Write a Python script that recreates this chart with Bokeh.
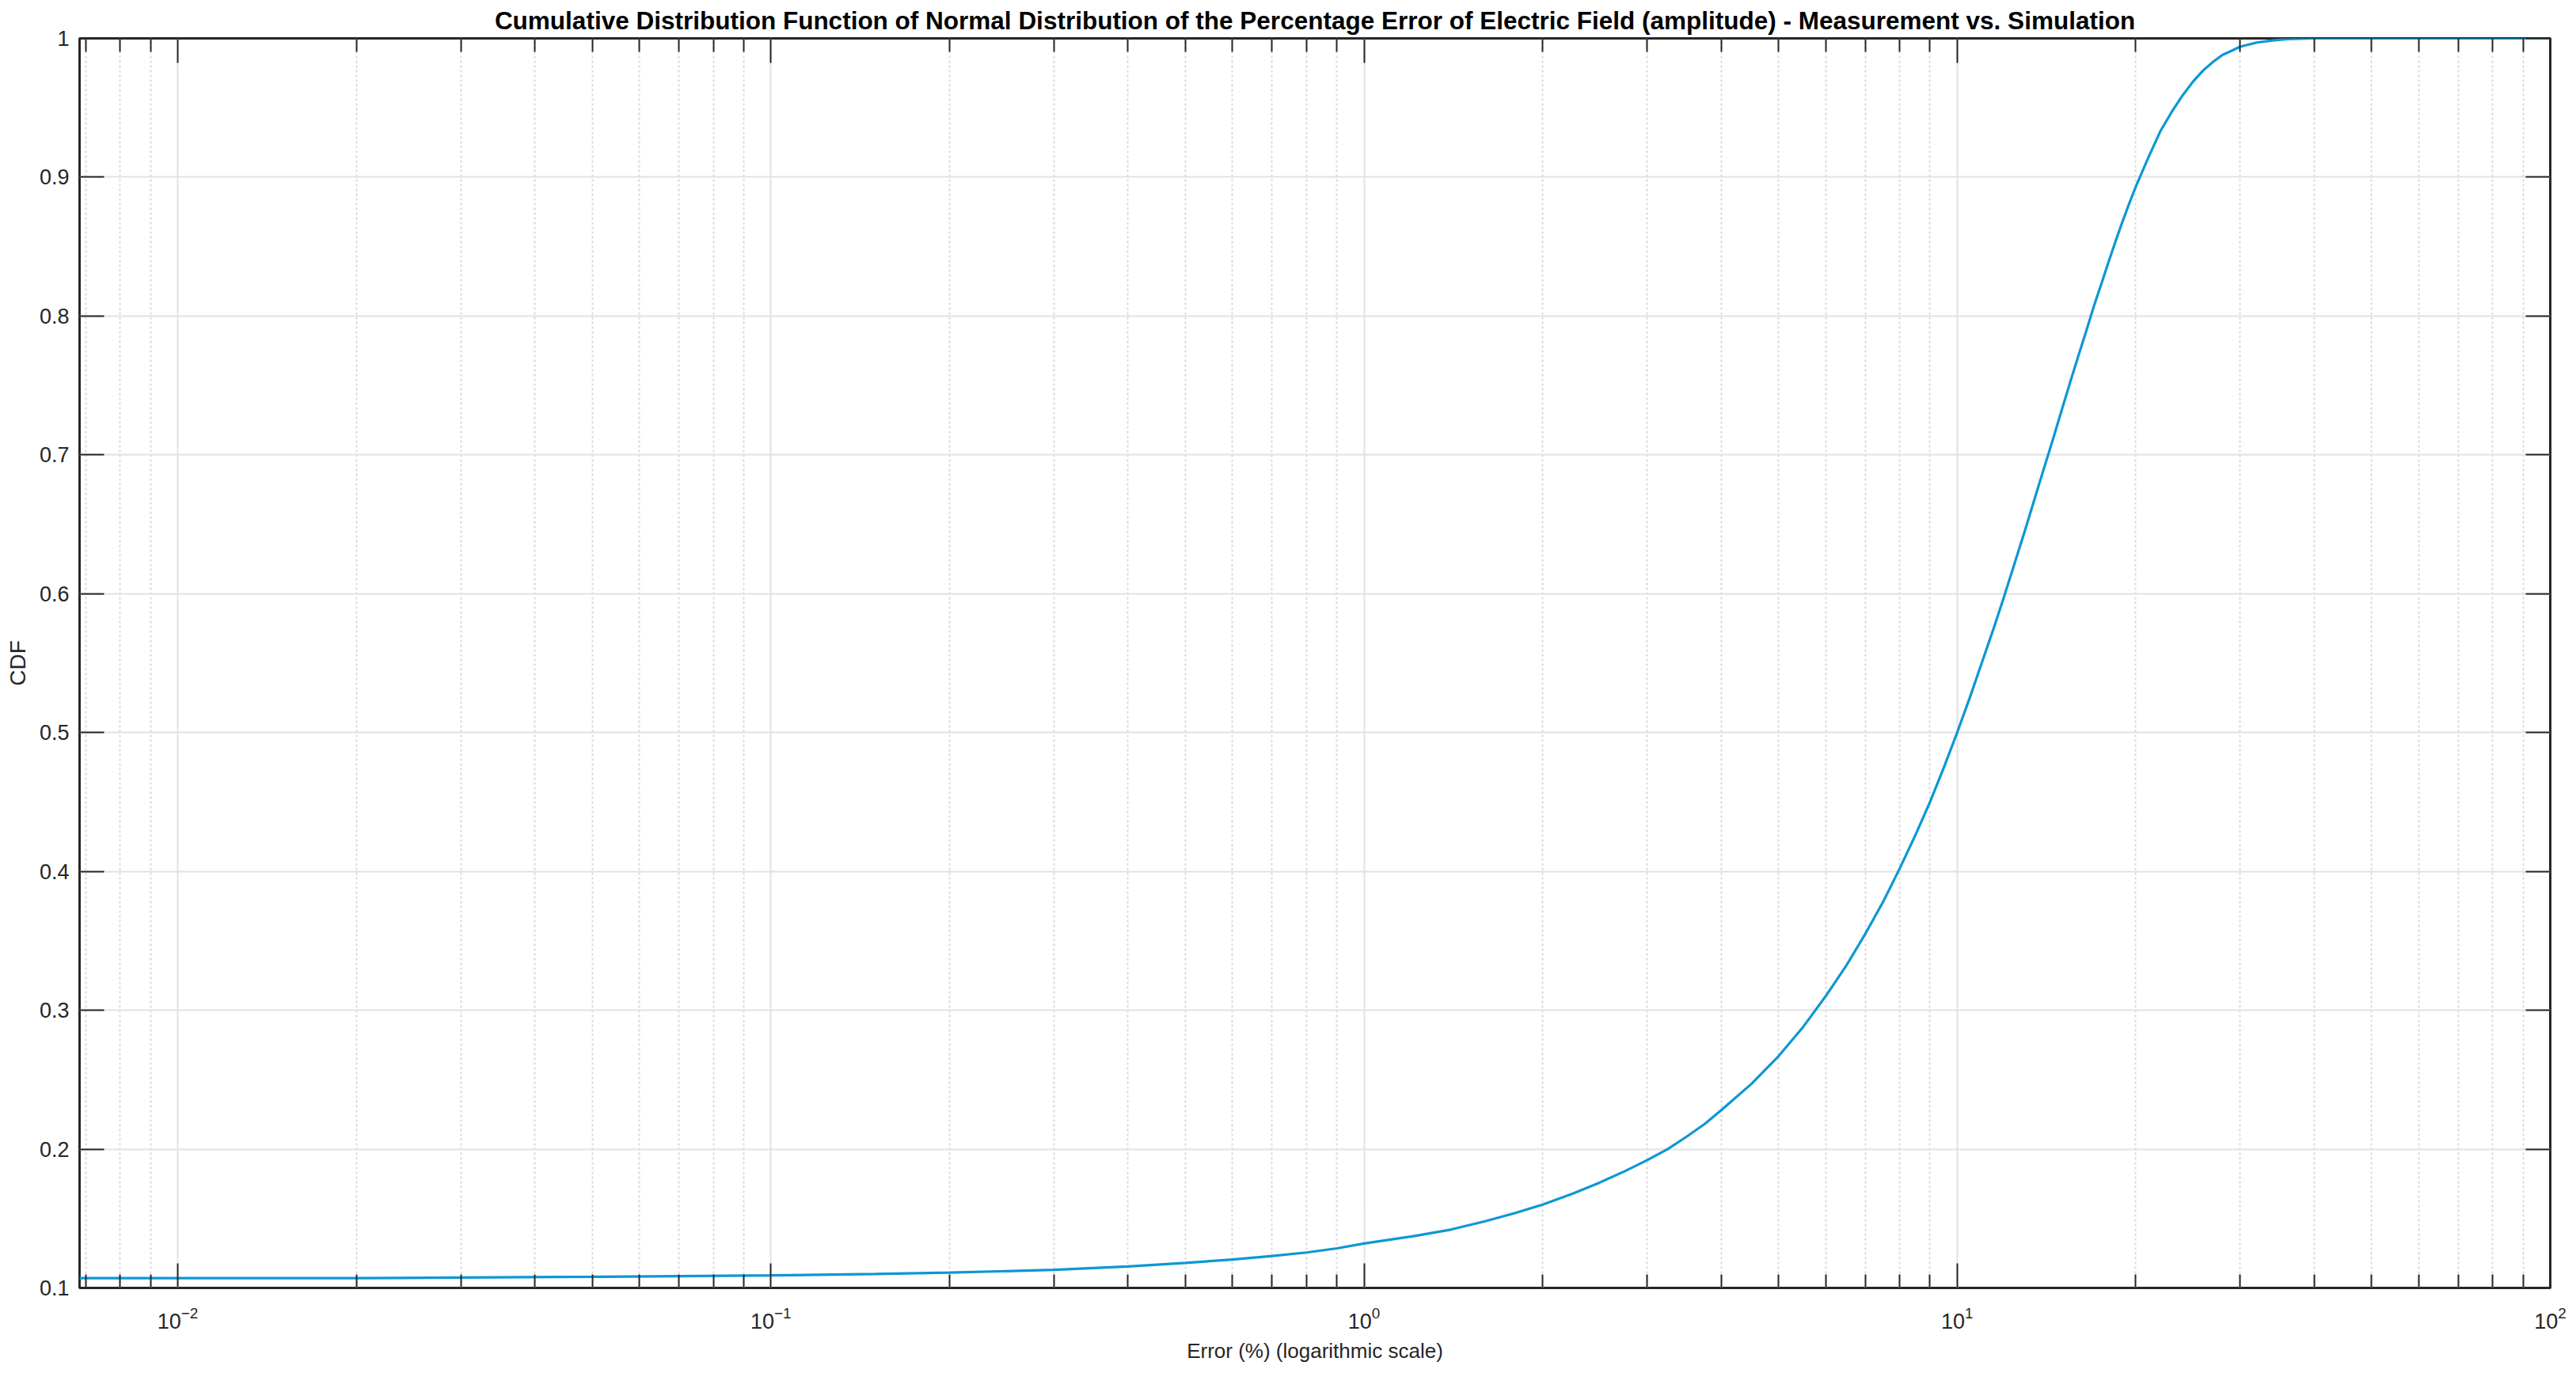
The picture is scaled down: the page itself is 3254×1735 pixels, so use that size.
from bokeh.plotting import figure
from bokeh.models import FixedTicker, LinearAxis, LogAxis, Range1d, CustomJSTickFormatter, ColumnDataSource
from bokeh.embed import file_html
from bokeh.resources import INLINE

# ---- data ----
error_pct = [0.00683, 0.01, 0.02, 0.03, 0.05, 0.07, 0.1, 0.15, 0.2, 0.3, 0.4, 0.5, 0.6, 0.7, 0.8,
             0.9, 1.0, 1.2, 1.4, 1.6, 1.8, 2.0, 2.25, 2.5, 2.75, 3.0, 3.25, 3.5, 3.75, 4.0, 4.5,
             5.0, 5.5, 6.0, 6.5, 7.0, 7.5, 8.0, 8.5, 9.0, 9.5, 10.0, 10.5, 11.0, 11.5, 12.0,
             12.5, 13.0, 13.5, 14.0, 14.5, 15.0, 15.5, 16.0, 16.5, 17.0, 17.5, 18.0, 18.5,
             19.0, 19.5, 20.0, 21.0, 22.0, 23.0, 24.0, 25.0, 26.0, 27.0, 28.0, 29.0, 30.0,
             32.0, 34.0, 36.0, 38.0, 40.0, 50.0, 100.0]
cdf = [0.107, 0.107, 0.107, 0.1075, 0.108, 0.1085, 0.109, 0.110, 0.111, 0.113, 0.1155, 0.118,
       0.1205, 0.123, 0.1255, 0.1285, 0.132, 0.137, 0.142, 0.148, 0.154, 0.160, 0.168, 0.176,
       0.184, 0.192, 0.200, 0.209, 0.218, 0.228, 0.247, 0.267, 0.288, 0.310, 0.332, 0.355,
       0.378, 0.402, 0.426, 0.450, 0.475, 0.500, 0.525, 0.550, 0.574, 0.598, 0.622, 0.645,
       0.668, 0.690, 0.711, 0.732, 0.752, 0.771, 0.789, 0.807, 0.823, 0.839, 0.854, 0.868,
       0.881, 0.893, 0.914, 0.933, 0.947, 0.959, 0.969, 0.977, 0.983, 0.988, 0.991, 0.994,
       0.997, 0.9985, 0.9995, 0.9998, 1.000, 1.000, 1.000]

x_major_ticks = [0.01, 0.1, 1, 10, 100]
x_minor_ticks = [0.007, 0.008, 0.009,
                 0.02, 0.03, 0.04, 0.05, 0.06, 0.07, 0.08, 0.09,
                 0.2, 0.3, 0.4, 0.5, 0.6, 0.7, 0.8, 0.9,
                 2, 3, 4, 5, 6, 7, 8, 9,
                 20, 30, 40, 50, 60, 70, 80, 90]
y_ticks = [0.1, 0.2, 0.3, 0.4, 0.5, 0.6, 0.7, 0.8, 0.9, 1.0]
y_tick_labels = ["0.1", "0.2", "0.3", "0.4", "0.5", "0.6", "0.7", "0.8", "0.9", "1"]

title_text = ("Cumulative Distribution Function of Normal Distribution of the Percentage Error "
              "of Electric Field (amplitude) - Measurement vs. Simulation")
x_label = "Error (%) (logarithmic scale)"
y_label = "CDF"

FONT = "Liberation Sans"
AX = "#262626"

p = figure(frame_width=3121, frame_height=1579, x_axis_type="log",
           x_range=Range1d(0.00683, 100), y_range=Range1d(0.1, 1.0),
           output_backend="svg", toolbar_location=None,
           min_border_left=100, min_border_right=25, min_border_top=47, min_border_bottom=90,
           background_fill_color="white", border_fill_color="white")

p.title.text = title_text
p.title.align = "center"
p.title.text_font = FONT
p.title.text_font_size = "31.5px"
p.title.text_font_style = "bold"
p.title.text_color = "black"
p.title.standoff = 10
p.title.offset = 0

p.outline_line_color = AX
p.outline_line_width = 3

xt = FixedTicker(ticks=x_major_ticks, minor_ticks=x_minor_ticks)
yt = FixedTicker(ticks=y_ticks, minor_ticks=[])

def style_axis(ax, show_labels):
    ax.axis_line_color = None
    ax.major_tick_in = 31
    ax.major_tick_out = 0
    ax.minor_tick_in = 17
    ax.minor_tick_out = 0
    ax.major_tick_line_color = AX
    ax.major_tick_line_width = 2
    ax.minor_tick_line_color = AX
    ax.minor_tick_line_width = 2
    ax.major_label_text_font = FONT
    ax.major_label_text_color = AX
    ax.axis_label_text_font = FONT
    ax.axis_label_text_color = AX
    ax.axis_label_text_font_style = "normal"
    ax.axis_label_text_font_size = "26px"
    if show_labels:
        ax.major_label_text_font_size = "27px"
    else:
        ax.major_label_text_font_size = "0px"
        ax.major_label_standoff = 0
        ax.formatter = CustomJSTickFormatter(code="return ''")

# bottom x axis
xa = p.xaxis[0]
xa.ticker = xt
style_axis(xa, True)
xa.axis_label = x_label
xa.major_label_standoff = 23
xa.axis_label_standoff = 10

# left y axis
ya = p.yaxis[0]
ya.ticker = yt
style_axis(ya, True)
ya.major_label_overrides = {t: s for t, s in zip(y_ticks, y_tick_labels)}
ya.axis_label = y_label
ya.axis_label_text_font_size = "28px"
ya.major_label_standoff = 13
ya.axis_label_standoff = 9

# box ticks on top and right
top = LogAxis(ticker=xt)
style_axis(top, False)
p.add_layout(top, "above")
right = LinearAxis(ticker=yt)
style_axis(right, False)
p.add_layout(right, "right")

# grids
p.xgrid.ticker = xt
p.xgrid.grid_line_color = "#e2e2e2"
p.xgrid.grid_line_width = 2
p.xgrid.minor_grid_line_color = "#dadada"
p.xgrid.minor_grid_line_width = 2
p.xgrid.minor_grid_line_dash = "3 3"
p.ygrid.ticker = yt
p.ygrid.grid_line_color = "#e2e2e2"
p.ygrid.grid_line_width = 2

src = ColumnDataSource(dict(x=error_pct, y=cdf))
p.line("x", "y", source=src, line_color="#0d97d5", line_width=3.2)

open("out.html", "w").write(file_html(p, INLINE))
